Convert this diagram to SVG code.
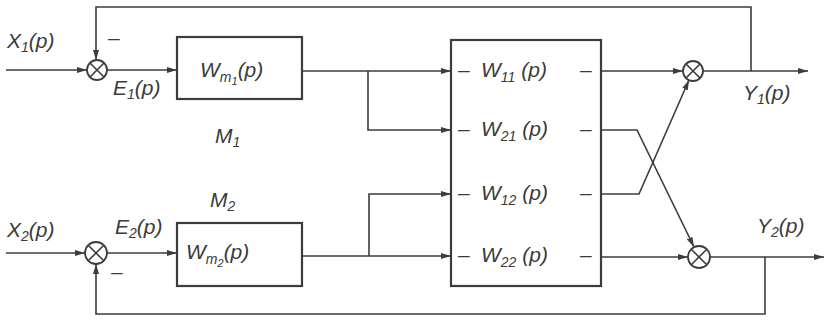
<svg xmlns="http://www.w3.org/2000/svg" width="826" height="322" viewBox="0 0 826 322">
<defs>
<marker id="ar" viewBox="0 0 10 6" refX="10" refY="3" markerWidth="10" markerHeight="6" markerUnits="userSpaceOnUse" orient="auto"><path d="M0,0 L10,3 L0,6 z" fill="#3c3c3c"/></marker>
</defs>
<style>
.ln{fill:none;stroke:#3c3c3c;stroke-width:1.6}
.ar{marker-end:url(#ar)}
.bx{fill:none;stroke:#3c3c3c;stroke-width:2.2}
.sum{fill:#fff;stroke:#3c3c3c;stroke-width:1.8}
.x{stroke:#3c3c3c;stroke-width:1.6}
.t{font-family:"Liberation Sans",Arial,sans-serif;font-style:italic;font-size:21px;fill:#3a3a3a}
.s{font-size:14px}
.ss{font-size:11px}
</style>
<rect width="826" height="322" fill="#fff"/>
<g id="connectors">
<path class="ln ar" d="M6,70 H87"/>
<path class="ln ar" d="M107,70 H177"/>
<path class="ln ar" d="M302,71 H451"/>
<path class="ln ar" d="M368,71 V130 H451"/>
<path class="ln ar" d="M6,253 H85"/>
<path class="ln ar" d="M107,253 H177"/>
<path class="ln ar" d="M302,256 H451"/>
<path class="ln ar" d="M369,256 V194 H451"/>
<path class="ln ar" d="M601,71 H683"/>
<path class="ln ar" d="M601,130 H637 L694,247"/>
<path class="ln ar" d="M601,194 H639 L689,80"/>
<path class="ln ar" d="M601,257 H688"/>
<path class="ln ar" d="M703,71 H808"/>
<path class="ln ar" d="M751,71 V7 H96 V60"/>
<path class="ln ar" d="M710,257 H824"/>
<path class="ln ar" d="M765,257 V314 H96 V264"/>
</g>
<g id="sum1"><circle class="sum" cx="97" cy="70" r="10"/><path class="x" d="M90,63 L104,77 M104,63 L90,77"/></g>
<g id="sum2"><circle class="sum" cx="96" cy="253" r="11"/><path class="x" d="M88.2,245.2 L103.8,260.8 M103.8,245.2 L88.2,260.8"/></g>
<g id="sumY1"><circle class="sum" cx="693" cy="71" r="10"/><path class="x" d="M686,64 L700,78 M700,64 L686,78"/></g>
<g id="sumY2"><circle class="sum" cx="699" cy="257" r="11"/><path class="x" d="M691.2,249.2 L706.8,264.8 M706.8,249.2 L691.2,264.8"/></g>
<g id="Wm1"><rect class="bx" x="177" y="37" width="125" height="62"/>
<text class="t" x="200" y="77">W<tspan class="s" dy="5">m</tspan><tspan class="ss" dy="3">1</tspan><tspan dy="-8">(p)</tspan></text></g>
<g id="Wm2"><rect class="bx" x="177" y="223" width="125" height="63"/>
<text class="t" x="186" y="259">W<tspan class="s" dy="5">m</tspan><tspan class="ss" dy="3">2</tspan><tspan dy="-8">(p)</tspan></text></g>
<g id="plant"><rect class="bx" x="451" y="40" width="150" height="246"/>
<text class="t" x="458" y="77">–</text><text class="t" x="481" y="77">W<tspan class="s" dy="5">11</tspan><tspan dy="-5"> (p)</tspan></text><text class="t" x="580" y="77">–</text>
<text class="t" x="458" y="136">–</text><text class="t" x="481" y="136">W<tspan class="s" dy="5">21</tspan><tspan dy="-5"> (p)</tspan></text><text class="t" x="580" y="136">–</text>
<text class="t" x="458" y="200">–</text><text class="t" x="481" y="200">W<tspan class="s" dy="5">12</tspan><tspan dy="-5"> (p)</tspan></text><text class="t" x="580" y="200">–</text>
<text class="t" x="458" y="262">–</text><text class="t" x="481" y="262">W<tspan class="s" dy="5">22</tspan><tspan dy="-5"> (p)</tspan></text><text class="t" x="580" y="262">–</text>
</g>
<g id="labels">
<text class="t" x="7" y="48">X<tspan class="s" dy="4">1</tspan><tspan dy="-4">(p)</tspan></text>
<text class="t" x="113" y="95">E<tspan class="s" dy="4">1</tspan><tspan dy="-4">(p)</tspan></text>
<text class="t" x="7" y="237">X<tspan class="s" dy="4">2</tspan><tspan dy="-4">(p)</tspan></text>
<text class="t" x="115" y="234">E<tspan class="s" dy="4">2</tspan><tspan dy="-4">(p)</tspan></text>
<text class="t" x="215" y="143">M<tspan class="s" dy="4">1</tspan></text>
<text class="t" x="210" y="207">M<tspan class="s" dy="4">2</tspan></text>
<text class="t" x="743" y="100">Y<tspan class="s" dy="4">1</tspan><tspan dy="-4">(p)</tspan></text>
<text class="t" x="757" y="233">Y<tspan class="s" dy="4">2</tspan><tspan dy="-4">(p)</tspan></text>
<text class="t" x="108" y="45">–</text>
<text class="t" x="111" y="279">–</text>
</g>
</svg>
